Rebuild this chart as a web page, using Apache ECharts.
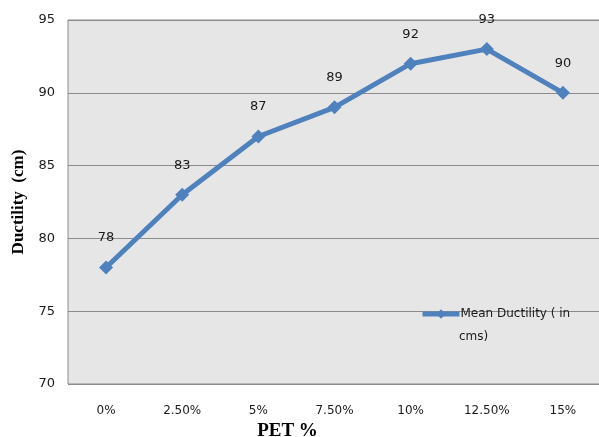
<!DOCTYPE html>
<html>
<head>
<meta charset="utf-8">
<script src="https://cdn.jsdelivr.net/npm/echarts@6/dist/echarts.min.js"></script>
<style>
html,body{margin:0;padding:0;background:#fff;}
#chart{width:599px;height:437px;}
</style>
</head>
<body>
<div id="chart"></div>
<script>
// PET content levels on the x axis
const categories = ['0%', '2.50%', '5%', '7.50%', '10%', '12.50%', '15%'];
// Mean ductility values, in cm
const ductility = [78, 83, 87, 89, 92, 93, 90];
const seriesName = 'Mean Ductility ( in cms)';
// The legend entry wraps onto two lines; the icon sits beside the first one
const legendLines = ['Mean Ductility ( in', 'cms)'];

const chart = echarts.init(document.getElementById('chart'));
chart.setOption({
  animation: false,
  backgroundColor: '#ffffff',
  textStyle: { fontFamily: 'DejaVu Sans' },
  grid: {
    left: 68, right: -2, top: 20, bottom: 53,
    outerBoundsMode: 'none',
    containLabel: false,
    show: true,
    backgroundColor: '#e6e6e6',
    borderColor: '#8c8c8c',
    borderWidth: 1
  },
  legend: {
    data: [seriesName],
    left: 420, top: 307,
    padding: 0,
    orient: 'vertical',
    itemWidth: 37, itemHeight: 12,
    lineStyle: { width: 5 },
    formatter: () => legendLines[0],
    textStyle: { fontSize: 12, color: '#1a1a1a', lineHeight: 14, fontFamily: 'DejaVu Sans', padding: [0, 0, 0, -4] }
  },
  graphic: [{
    type: 'text',
    left: 459, top: 331,
    silent: true,
    style: { text: legendLines[1], fontSize: 12, fill: '#1a1a1a', fontFamily: 'DejaVu Sans' }
  }],
  xAxis: {
    type: 'category',
    data: categories,
    boundaryGap: true,
    axisLine: { show: false },
    axisTick: { show: false },
    axisLabel: { color: '#1a1a1a', fontSize: 12, margin: 21 },
    name: 'PET %',
    nameLocation: 'middle',
    nameGap: 37,
    nameTextStyle: { fontFamily: 'Liberation Serif', fontWeight: 'bold', fontSize: 19, color: '#000', padding: [0, 94, 0, 0] }
  },
  yAxis: {
    type: 'value',
    min: 70, max: 95, interval: 5,
    axisLine: { show: false },
    axisTick: { show: false },
    axisLabel: { color: '#1a1a1a', fontSize: 13, margin: 13 },
    splitLine: { lineStyle: { color: '#8c8c8c', width: 1 } },
    name: 'Ductility  (cm)',
    nameLocation: 'middle',
    nameGap: 41,
    nameRotate: 90,
    nameTextStyle: { fontFamily: 'Liberation Serif', fontWeight: 'bold', fontSize: 17, color: '#000' }
  },
  series: [{
    name: seriesName,
    type: 'line',
    data: ductility,
    color: '#4f81bd',
    lineStyle: { width: 5, color: '#4f81bd' },
    symbol: 'diamond',
    symbolSize: 14,
    itemStyle: { color: '#4f81bd' },
    label: {
      show: true,
      position: 'top',
      distance: 16,
      color: '#1a1a1a',
      fontSize: 13
    }
  }]
});
</script>
</body>
</html>
